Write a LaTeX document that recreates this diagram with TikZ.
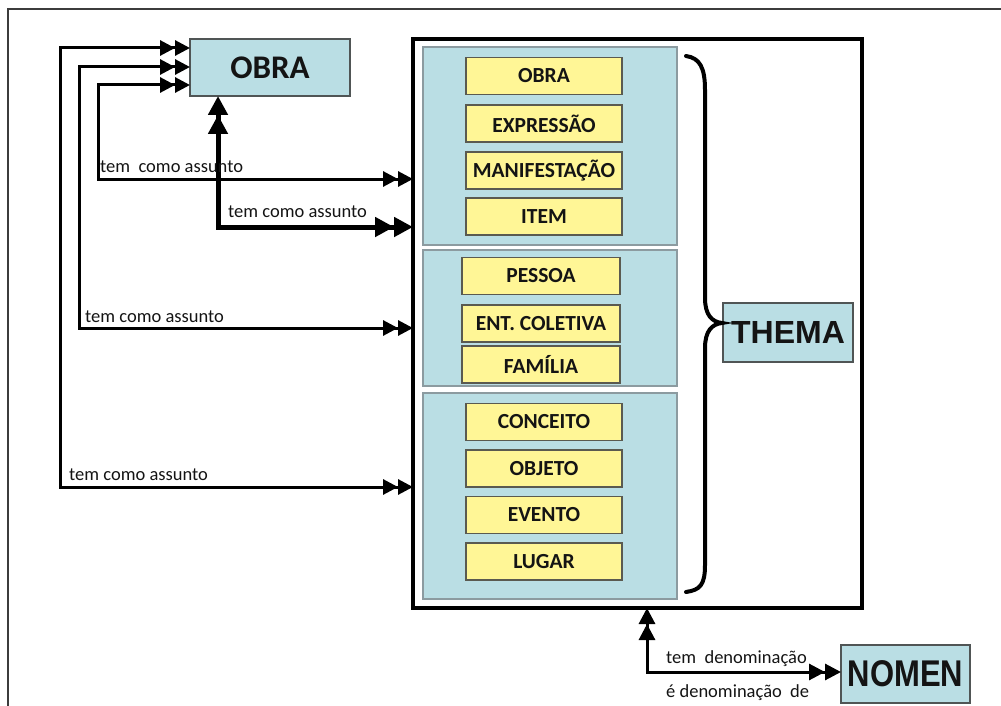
\documentclass[tikz,border=0pt]{standalone}
\usepackage{fontspec}
\setmainfont{Carlito}
\newfontfamily\arialfont{Liberation Sans}
\usetikzlibrary{arrows.meta}
\definecolor{panelblue}{RGB}{186,222,228}
\definecolor{panelline}{RGB}{140,155,160}
\definecolor{ylwfill}{RGB}{255,246,150}
\definecolor{ylwline}{RGB}{90,90,80}
\definecolor{boxline}{RGB}{80,85,85}
\definecolor{ink}{RGB}{20,20,20}
\definecolor{framegray}{RGB}{60,60,60}
\tikzset{
  panel/.style={draw=panelline, line width=1.2, fill=panelblue, minimum width=254, inner sep=0, outer sep=0},
  yellowbox/.style={draw=ylwline, line width=1.5, fill=ylwfill, minimum height=37, inner sep=0, outer sep=0,
    font=\bfseries\fontsize{21.5}{24}\selectfont, text=ink},
  bluebox/.style={draw=boxline, line width=1.5, fill=panelblue, inner sep=0, outer sep=0, text=ink},
  lbl/.style={font=\fontsize{18.5}{22}\selectfont, text=ink, inner sep=0, anchor=base west},
  conn/.style={draw=black, line width=3, line join=miter},
  dbl/.style={arrows={Triangle[length=#1,width=#1]Triangle[length=#1,width=#1]-Triangle[length=#1,width=#1]Triangle[length=#1,width=#1]}},
}
\begin{document}
\begin{tikzpicture}[x=1pt,y=-1pt]
\useasboundingbox (0,0) rectangle (1001,706);
% page frame
\draw[framegray, line width=1.5] (8,706) -- (8,9) -- (1001,9);

% main container
\node[draw, line width=4, minimum width=449, minimum height=569, inner sep=0, outer sep=0] (frame) at (637.5,323.5) {};

% panels
\node[panel, minimum height=198] (p1) at (550,146) {};
\node[panel, minimum height=136] (p2) at (550,318) {};
\node[panel, minimum height=206] (p3) at (550,496) {};

% yellow boxes
\node[yellowbox, minimum width=156] (y1) at (544,76) {OBRA};
\node[yellowbox, minimum width=156] (y2) at (544,123.5) {EXPRESSÃO};
\node[yellowbox, minimum width=156] (y3) at (544,170.5) {MANIFESTAÇÃO};
\node[yellowbox, minimum width=156] (y4) at (544,216.5) {ITEM};
\node[yellowbox, minimum width=158] (y5) at (541,276) {PESSOA};
\node[yellowbox, minimum width=158] (y6) at (541,323.5) {ENT. COLETIVA};
\node[yellowbox, minimum width=158] (y7) at (541,364.5) {FAMÍLIA};
\node[yellowbox, minimum width=156] (y8) at (544,422) {CONCEITO};
\node[yellowbox, minimum width=156] (y9) at (544,468.5) {OBJETO};
\node[yellowbox, minimum width=156] (y10) at (544,515) {EVENTO};
\node[yellowbox, minimum width=156] (y11) at (544,561.5) {LUGAR};

% OBRA, THEMA, NOMEN
\node[bluebox, minimum width=160, minimum height=57, font=\bfseries\fontsize{33}{36}\selectfont] (obra) at (270,67.5) {OBRA};
\node[bluebox, minimum width=130, minimum height=59, font=\arialfont\bfseries\fontsize{32}{36}\selectfont] (thema) at (788,332.5) {THEMA};
\node[bluebox, minimum width=129, minimum height=58, font=\arialfont\bfseries\fontsize{31}{36}\selectfont] (nomen) at (905.5,674) {\scalebox{1}[1.2]{NOMEN}};

% brace
\draw[black, line width=4, line cap=round]
  (686,56) .. controls (700,58) and (705,68) .. (705,90) -- (705,298)
  .. controls (705,315) and (712,322) .. (722,323)
  .. controls (712,324) and (705,331) .. (705,348) -- (705,565)
  .. controls (705,585) and (700,590) .. (686,592);

% connectors
\coordinate (k1) at (60,48);   \coordinate (k1b) at (60,487);
\coordinate (k2) at (79,67);   \coordinate (k2b) at (79,328);
\coordinate (k3) at (98,85);   \coordinate (k3b) at (98,179);
\coordinate (k4) at (218,227);
\coordinate (k5) at (647,672);

\draw[conn, dbl=15] (k1 -| obra.west) -- (k1) -- (k1b) -- (k1b -| frame.west);
\draw[conn, dbl=15] (k2 -| obra.west) -- (k2) -- (k2b) -- (k2b -| frame.west);
\draw[conn, dbl=15] (k3 -| obra.west) -- (k3) -- (k3b) -- (k3b -| frame.west);
\draw[conn, line width=5, dbl=19] (k4 |- obra.south) -- (k4) -- (k4 -| frame.west);
\draw[conn, dbl=16] (k5 |- frame.south) -- (k5) -- (k5 -| nomen.west);

% labels
\node[lbl] (l1) at (69,480) {tem como assunto};
\node[lbl] (l2) at (85,322) {tem como assunto};
\node[lbl] (l3) at (100,172) {tem\ \ como assunto};
\node[lbl] (l4) at (228,217) {tem como assunto};
\node[lbl] (l5) at (666,663) {tem\ \ denominação};
\node[lbl] (l6) at (666,697) {é denominação\ \ de};
\end{tikzpicture}
\end{document}
